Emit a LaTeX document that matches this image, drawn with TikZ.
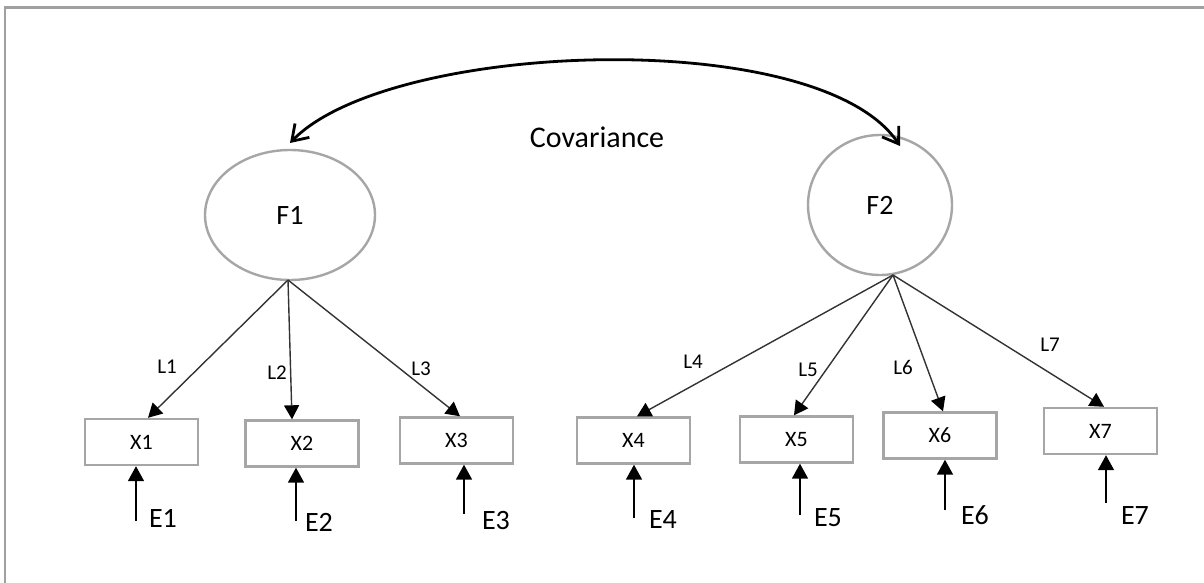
\documentclass[tikz,border=0pt]{standalone}
\usepackage{fontspec}
\setmainfont{Carlito}
\usetikzlibrary{arrows.meta,shapes.geometric,calc}
\definecolor{boxgray}{HTML}{A6A6A6}
\definecolor{framegray}{HTML}{A0A0A0}
\definecolor{linedark}{HTML}{333333}
\begin{document}
\begin{tikzpicture}[x=1pt,y=-1pt,
  factor/.style={ellipse,draw=boxgray,line width=2.4pt,inner sep=0pt,font=\fontsize{28}{32}\selectfont},
  indicator/.style={rectangle,draw=boxgray,line width=2.4pt,minimum width=113pt,minimum height=46pt,inner sep=0pt,font=\fontsize{22}{26}\selectfont},
  loading/.style={draw=linedark,line width=1.4pt,-{Triangle[length=14pt,width=15pt,color=black]}},
  errarrow/.style={draw=black,line width=1.8pt,-{Triangle[length=15pt,width=16pt]}},
  covarrow/.style={draw=black,line width=2.8pt,{Straight Barb[length=15pt,width=20pt]}-{Straight Barb[length=15pt,width=20pt]}},
  lbl/.style={inner sep=0pt,font=\fontsize{21}{24}\selectfont},
  errlbl/.style={inner sep=0pt,font=\fontsize{28}{30}\selectfont}]
\useasboundingbox (0,0) rectangle (1204,583);
\fill[white] (0,0) rectangle (1204,583);
% frame
\draw[framegray,line width=3pt] (4,8) -- (1204,8);
\draw[framegray,line width=2pt] (5,8) -- (5,583);

% factors
\node[factor,minimum width=170pt,minimum height=130pt] (F1) at (290,215) {F1};
\node[factor,minimum width=144pt,minimum height=140pt] (F2) at (880,205) {F2};
\coordinate (f1o) at (288,280);
\coordinate (f2o) at (893,275);
\coordinate (c1) at (290,143);
\coordinate (c2) at (900,146);

% covariance
\draw[covarrow] (c1) .. controls (390,40) and (820,25) .. (c2);
\node[inner sep=0pt,font=\fontsize{30}{34}\selectfont] (cov) at (597,137) {Covariance};

% indicators
\node[indicator] (X1) at (141.5,442) {X1};
\node[indicator] (X2) at (302,443.5) {X2};
\node[indicator] (X3) at (456.5,440.5) {X3};
\node[indicator] (X4) at (633.5,440.5) {X4};
\node[indicator] (X5) at (796.5,439.5) {X5};
\node[indicator] (X6) at (940,435.5) {X6};
\node[indicator] (X7) at (1100.5,431) {X7};

% loadings
\draw[loading] (f1o) -- ($(X1.north)+(6.5,0)$);
\draw[loading] (f1o) -- ($(X2.north)+(-10,0)$);
\draw[loading] (f1o) -- ($(X3.north)+(3.5,0)$);
\draw[loading] (f2o) -- ($(X4.north)+(3.5,0)$);
\draw[loading] (f2o) -- ($(X5.north)+(-2.5,0)$);
\draw[loading] (f2o) -- ($(X6.north)+(3,0)$);
\draw[loading] (f2o) -- ($(X7.north)+(3.5,0)$);

\node[lbl] (L1) at (167,367) {L1};
\node[lbl] (L2) at (277,373) {L2};
\node[lbl] (L3) at (421,369) {L3};
\node[lbl] (L4) at (693,362) {L4};
\node[lbl] (L5) at (808,370) {L5};
\node[lbl] (L6) at (903,367) {L6};
\node[lbl] (L7) at (1050,345) {L7};

% errors
\coordinate (e1) at (136,521);
\coordinate (e2) at (296,521);
\coordinate (e3) at (464,514);
\coordinate (e4) at (634,518);
\coordinate (e5) at (800,515);
\coordinate (e6) at (945,510);
\coordinate (e7) at (1106,503);
\draw[errarrow] (e1) -- (e1 |- X1.south);
\draw[errarrow] (e2) -- (e2 |- X2.south);
\draw[errarrow] (e3) -- (e3 |- X3.south);
\draw[errarrow] (e4) -- (e4 |- X4.south);
\draw[errarrow] (e5) -- (e5 |- X5.south);
\draw[errarrow] (e6) -- (e6 |- X6.south);
\draw[errarrow] (e7) -- (e7 |- X7.south);

\node[errlbl] (E1) at (163,518) {E1};
\node[errlbl] (E2) at (319,522) {E2};
\node[errlbl] (E3) at (496,521) {E3};
\node[errlbl] (E4) at (663,520) {E4};
\node[errlbl] (E5) at (828,518) {E5};
\node[errlbl] (E6) at (975,515) {E6};
\node[errlbl] (E7) at (1135,516) {E7};
\end{tikzpicture}
\end{document}
